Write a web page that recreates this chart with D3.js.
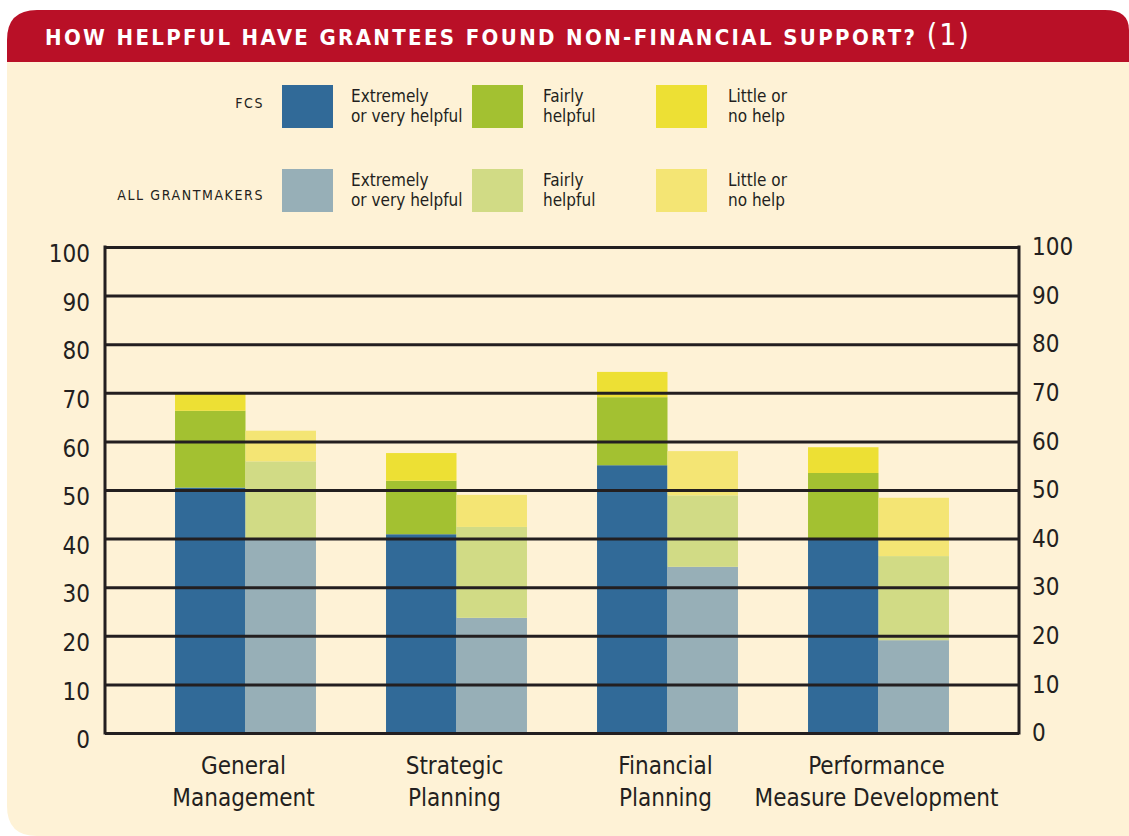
<!DOCTYPE html>
<html>
<head>
<meta charset="utf-8">
<script src="https://cdn.jsdelivr.net/npm/d3@7"></script>
<style>
  html, body { margin: 0; padding: 0; background: #ffffff; }
  svg { display: block; }
  text { font-family: "DejaVu Sans Condensed", "Liberation Sans Narrow", Roboto, sans-serif; fill: #231f20; }
</style>
</head>
<body>
<svg id="chart" width="1129" height="836"></svg>
<script>
// Support areas (two-line labels)
const categories = ["General Management", "Strategic Planning", "Financial Planning", "Performance Measure Development"];
const categoryLines = [["General", "Management"], ["Strategic", "Planning"], ["Financial", "Planning"], ["Performance", "Measure Development"]];

// Respondent groups
const groups = ["FCS", "ALL GRANTMAKERS"];

// Helpfulness levels, bottom to top
const levels = ["Extremely or very helpful", "Fairly helpful", "Little or no help"];
const levelLines = [["Extremely", "or very helpful"], ["Fairly", "helpful"], ["Little or", "no help"]];

// Percent of grantees, one array per group, one entry per category: [extremely/very, fairly, little/none]
const fcsValues = [
  [50.5, 15.8, 3.8],
  [40.9, 11.0, 5.7],
  [55.1, 14.0, 5.2],
  [40.1, 13.4, 5.3]
];
const allValues = [
  [40.1, 15.8, 6.3],
  [23.7, 18.7, 6.6],
  [34.2, 14.7, 9.1],
  [19.1, 17.3, 12.0]
];

const yTicks = [0, 10, 20, 30, 40, 50, 60, 70, 80, 90, 100];

const palette = {
  "FCS": ["#316a98", "#a3c131", "#ede034"],
  "ALL GRANTMAKERS": ["#97afb7", "#d1db85", "#f4e574"]
};

const svg = d3.select("#chart");

// Panel background (rounded lower-left corner) and header banner
const rp = 30;
const panel = d3.path();
panel.moveTo(7, 50);
panel.lineTo(1129, 50);
panel.lineTo(1129, 836);
panel.lineTo(7 + rp, 836);
panel.quadraticCurveTo(7, 836, 7, 836 - rp);
panel.closePath();
svg.append("path").attr("d", panel.toString()).attr("fill", "#fef2d6");

const banner = d3.path();
const r = 30;
banner.moveTo(7, 62);
banner.lineTo(7, 10 + r);
banner.quadraticCurveTo(7, 10, 7 + r, 10);
banner.lineTo(1105, 10);
banner.quadraticCurveTo(1129, 10, 1129, 30);
banner.lineTo(1129, 62);
banner.closePath();
svg.append("path").attr("d", banner.toString()).attr("fill", "#b91027");

const title = svg.append("text")
  .attr("x", 45).attr("y", 45)
  .style("fill", "#ffffff")
  .style("font-weight", "bold")
  .style("font-size", "22px")
  .style("letter-spacing", "2.35px");
title.append("tspan").text("HOW HELPFUL HAVE GRANTEES FOUND NON-FINANCIAL SUPPORT? ");
title.append("tspan").style("font-size", "30px").style("font-weight", "normal").style("letter-spacing", "2px").text("(1)");

// Scales
const y = d3.scaleLinear().domain([0, 100]).range([733, 247]);
const x = d3.scaleBand().domain(categories).range([140, 984]).paddingInner(0.332).paddingOuter(0.166);
const xInner = d3.scaleBand().domain(groups).range([0, x.bandwidth()]);
const plotLeft = 105, plotRight = 1019;

// Stacked bars
const stack = d3.stack().keys([0, 1, 2]).value((d, k) => d[k]);
const dataByGroup = { "FCS": fcsValues, "ALL GRANTMAKERS": allValues };

const barsG = svg.append("g");
groups.forEach(g => {
  const series = stack(dataByGroup[g]);
  series.forEach((s, li) => {
    barsG.selectAll(null)
      .data(s.map((seg, ci) => ({ seg, ci })))
      .enter().append("rect")
      .attr("x", d => x(categories[d.ci]) + xInner(g))
      .attr("width", xInner.bandwidth())
      .attr("y", d => y(d.seg[1]))
      .attr("height", d => y(d.seg[0]) - y(d.seg[1]))
      .attr("fill", palette[g][li]);
  });
});

// Gridlines drawn over the bars, with the left and right axes
const grid = d3.axisLeft(y).tickValues(yTicks).tickSize(-(plotRight - plotLeft)).tickFormat("");
const gridG = svg.append("g").attr("transform", `translate(${plotLeft},0)`).call(grid);
gridG.select(".domain").remove();
gridG.selectAll(".tick line").attr("stroke", "#231f20").attr("stroke-width", 3);

svg.append("line").attr("x1", plotLeft).attr("x2", plotLeft).attr("y1", y(100) - 1.5).attr("y2", y(0) + 1.5)
  .attr("stroke", "#231f20").attr("stroke-width", 3);
svg.append("line").attr("x1", plotRight).attr("x2", plotRight).attr("y1", y(100) - 1.5).attr("y2", y(0) + 1.5)
  .attr("stroke", "#231f20").attr("stroke-width", 3);

// Tick labels
const leftAxis = d3.axisLeft(y).tickValues(yTicks).tickSize(0).tickPadding(15);
const la = svg.append("g").attr("transform", `translate(${plotLeft},7)`).call(leftAxis);
la.select(".domain").remove();
la.selectAll("text").style("font-size", "24px").style("font-family", null).attr("fill", "#231f20");

const rightAxis = d3.axisRight(y).tickValues(yTicks).tickSize(0).tickPadding(13);
const ra = svg.append("g").attr("transform", `translate(${plotRight},0)`).call(rightAxis);
ra.select(".domain").remove();
ra.selectAll("text").style("font-size", "24px").style("font-family", null).attr("fill", "#231f20");

// Category labels
categories.forEach((c, i) => {
  const cx = x(c) + x.bandwidth() / 2 - 2;
  const t = svg.append("text").attr("text-anchor", "middle").style("font-size", "24px");
  categoryLines[i].forEach((line, j) => {
    t.append("tspan").attr("x", cx).attr("y", 774 + j * 32).text(line);
  });
});

// Legend
const legendRows = [{ g: "FCS", y: 85 }, { g: "ALL GRANTMAKERS", y: 169 }];
const swatchX = [282, 472, 656];
const labelX = [351, 543, 728];
legendRows.forEach(row => {
  svg.append("text")
    .attr("x", 264).attr("y", row.y + (row.g === "FCS" ? 23 : 31))
    .attr("text-anchor", "end")
    .style("font-size", "14px")
    .style("letter-spacing", "1.6px")
    .text(row.g);
  levels.forEach((lv, i) => {
    svg.append("rect")
      .attr("x", swatchX[i]).attr("y", row.y)
      .attr("width", 51).attr("height", 43)
      .attr("fill", palette[row.g][i]);
    const t = svg.append("text").style("font-size", "17px");
    levelLines[i].forEach((line, j) => {
      t.append("tspan").attr("x", labelX[i]).attr("y", row.y + 17 + j * 20).text(line);
    });
  });
});
</script>
</body>
</html>
